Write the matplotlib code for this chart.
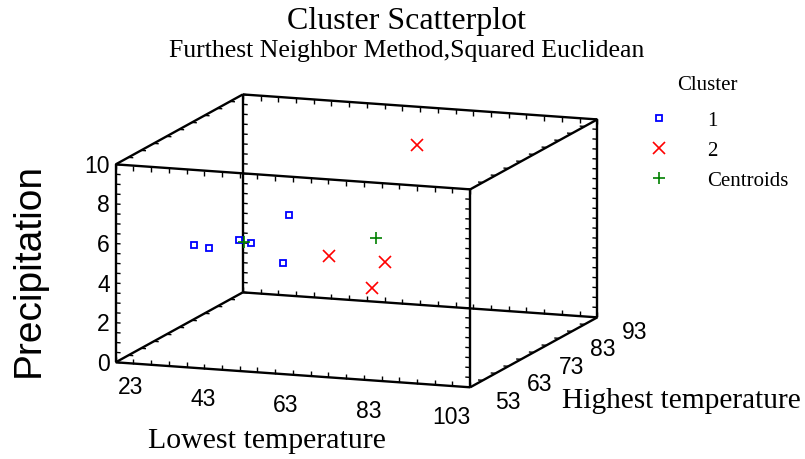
import numpy as np
import matplotlib
matplotlib.use("Agg")
import matplotlib.pyplot as plt
from mpl_toolkits.mplot3d import proj3d
from mpl_toolkits.mplot3d.art3d import Line3DCollection

plt.rcParams['axes3d.automargin'] = False

# data (depth values are estimates)
low_temp = [32.0, 34.0, 39.4, 40.6, 47.8, 49.2, 65.1, 53.9, 63.6, 66.5]
high_temp = [65, 67, 69, 71, 73, 69, 89, 77, 81, 73]
precipitation = [5.00, 4.72, 5.03, 4.70, 6.05, 4.00, 8.45, 3.72, 3.26, 2.68]
cluster = [1, 1, 1, 1, 1, 1, 2, 2, 2, 2]

x_ticks = [23, 43, 63, 83, 103]
y_ticks = [53, 63, 73, 83, 93]
z_ticks = [0, 2, 4, 6, 8, 10]

SANS = 'Liberation Sans'
SERIF = 'Liberation Serif'

low_temp = np.array(low_temp)
high_temp = np.array(high_temp)
precipitation = np.array(precipitation)
cluster = np.array(cluster)

fig = plt.figure(figsize=(8.05, 4.6), dpi=100)
W, H = fig.bbox.width, fig.bbox.height
ax = fig.add_axes([0.1, 0.1, 0.7, 0.7], projection='3d')
ax.set_proj_type('ortho')
ax.view_init(elev=11.36, azim=-70.3)
ax.set_box_aspect((1.865, 1.868, 1))
x0, x1 = x_ticks[0], x_ticks[-1]
y0, y1 = y_ticks[0], y_ticks[-1]
z0, z1 = z_ticks[0], z_ticks[-1]
ax.set_xlim(x0, x1)
ax.set_ylim(y0, y1)
ax.set_zlim(z0, z1)
ax.set_axis_off()
ax.computed_zorder = False

# box edges
edges = []
for y in (y0, y1):
    for z in (z0, z1):
        edges.append([(x0, y, z), (x1, y, z)])
for x in (x0, x1):
    for z in (z0, z1):
        edges.append([(x, y0, z), (x, y1, z)])
for x in (x0, x1):
    for y in (y0, y1):
        edges.append([(x, y, z0), (x, y, z1)])
ax.add_collection3d(Line3DCollection(edges, colors='black', linewidths=1.7, zorder=1))

# small tick marks on every edge
ticks = []
tx = 1.1
for x, sgn in ((x0, 1), (x1, -1)):
    for y in (y0, y1):
        for z in np.arange(z0, z1 + 0.01, 0.5):
            ticks.append([(x, y, z), (x + sgn * tx, y, z)])
    for z in (z0, z1):
        for y in np.arange(y0, y1 + 0.01, 4):
            ticks.append([(x, y, z), (x + sgn * tx, y, z)])
for z, sgn in ((z0, 1), (z1, -1)):
    for y in (y0, y1):
        for x in np.arange(x0, x1 + 0.01, 4):
            ticks.append([(x, y, z), (x, y, z + sgn * 0.25)])
ax.add_collection3d(Line3DCollection(ticks, colors='black', linewidths=1.0, zorder=1))

# points
c1 = cluster == 1
c2 = cluster == 2
h1, = ax.plot(low_temp[c1], high_temp[c1], precipitation[c1], linestyle='none',
              marker='s', ms=5, mfc='none', mec='#0000FF', mew=1.3, zorder=5)
h2, = ax.plot(low_temp[c2], high_temp[c2], precipitation[c2], linestyle='none',
              marker='x', ms=9, mec='#FF0000', mew=1.2, zorder=5)
cx = [low_temp[cluster == k].mean() for k in (1, 2)]
cy = [high_temp[cluster == k].mean() for k in (1, 2)]
cz = [precipitation[cluster == k].mean() for k in (1, 2)]
h3, = ax.plot(cx, cy, cz, linestyle='none', marker='+', ms=9, mec='#008000',
              mew=1.2, zorder=6)

# place the box where it sits in the reference
fig.canvas.draw()
pos = ax.get_position(original=True)
px, py, _ = proj3d.proj_transform(np.array([x0, x1]), np.array([y0, y1]),
                                  np.array([z0, z1]), ax.get_proj())
disp = ax.transData.transform(np.column_stack([px, py]))
t1 = np.array([115.7, H - 363.3])
t2 = np.array([597.3, H - 120.7])
s = (t2[0] - t1[0]) / (disp[1, 0] - disp[0, 0])
c = fig.transFigure.transform([pos.x0 + pos.width / 2, pos.y0 + pos.height / 2])
cn = t1 - s * (disp[0] - c)
w, h = pos.width * s, pos.height * s
ax.set_position([cn[0] / W - w / 2, cn[1] / H - h / 2, w, h])
fig.canvas.draw()


def to_px(x, y, z):
    """3D data point -> pixel position, measured from the top-left corner."""
    qx, qy, _ = proj3d.proj_transform(np.atleast_1d(x), np.atleast_1d(y),
                                      np.atleast_1d(z), ax.get_proj())
    d = ax.transData.transform(np.column_stack([qx, qy]))[0]
    return d[0], H - d[1]


def label(xp, yp, txt, **kw):
    fig.text(xp / W, 1 - yp / H, txt, **kw)


# tick labels, set beside the projected edges
for z in z_ticks:
    xp, yp = to_px(x0, y0, z)
    label(xp - 6, yp + 1, str(z), ha='right', va='center', fontsize=16.5,
          family=SANS)
for x in x_ticks:
    xp, yp = to_px(x, y0, z0)
    nudge = (10, -5) if x == x0 else (0, 0)
    label(12.5 + 0.933 * xp + nudge[0], yp + 29.5 + nudge[1], str(x),
          ha='center', va='center', fontsize=16.5, family=SANS)
for y in y_ticks:
    xp, yp = to_px(x1, y, z0)
    label(xp + 37.5, yp + 14, str(y), ha='center', va='center', fontsize=16.5,
          family=SANS)

# titles and axis labels
label(406, 22, 'Cluster Scatterplot', ha='center', va='center',
      fontsize=23, family=SERIF)
label(407, 51, 'Furthest Neighbor Method,Squared Euclidean',
      ha='center', va='center', fontsize=18.5, family=SERIF)
label(29, 270, 'Precipitation', rotation=90, ha='center',
      va='center', fontsize=28, family=SANS)
label(267, 441, 'Lowest temperature', ha='center',
      va='center', fontsize=21.5, family=SERIF)
label(681, 401, 'Highest temperature', ha='center',
      va='center', fontsize=21.2, family=SERIF)

label(707, 85, 'Cluster', ha='center', va='center', fontsize=15, family=SERIF)
leg = fig.legend([h1, h2, h3], ['1', '2', 'Centroids'],
                 loc='upper left', bbox_to_anchor=(634 / W, 1 - 97 / H),
                 frameon=False, prop={'family': SERIF, 'size': 15},
                 handlelength=1.0, handletextpad=1.8, labelspacing=0.5,
                 borderpad=0.2)

fig.savefig('out.png', dpi=100)
